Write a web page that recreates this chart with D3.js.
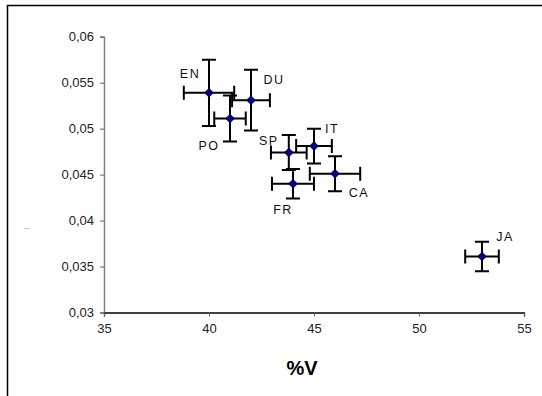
<!DOCTYPE html>
<html>
<head>
<meta charset="utf-8">
<script src="https://cdn.jsdelivr.net/npm/d3@7"></script>
<style>
  body { margin: 0; background: #fff; }
  svg { display: block; font-family: "Liberation Sans", Arial, sans-serif; }
</style>
</head>
<body>
<div id="chart"></div>
<script>
// Länder, %V, Wert und Fehlerbalken
const laender = ['EN', 'DU', 'PO', 'SP', 'IT', 'FR', 'CA', 'JA'];
const prozentV = [40, 42, 41, 43.8, 45, 44, 46, 53];
const werte = [0.0539, 0.0531, 0.0511, 0.0474, 0.0481, 0.0440, 0.0451, 0.0361];
const fehlerV = [1.2, 0.9, 0.75, 0.85, 0.85, 1.0, 1.2, 0.8];
const fehlerWert = [0.0036, 0.0033, 0.0025, 0.0019, 0.0019, 0.0016, 0.0019, 0.0016];
const xTicks = [35, 40, 45, 50, 55];
const yTicks = [0.03, 0.035, 0.04, 0.045, 0.05, 0.055, 0.06];

// Beschriftungsversatz in px (nur Layout)
const beschriftung = {
    EN: [-19, -15], DU: [23, -16], PO: [-21, 31], SP: [-20, -8],
    IT: [18, -13], FR: [-10, 30], CA: [24, 23], JA: [23, -15]
};

const width = 542, height = 396;
const svg = d3.select('#chart').append('svg')
    .attr('width', width)
    .attr('height', height);

// Rahmen
svg.append('path')
    .attr('d', `M7.5,${height} V5.5 H${width}`)
    .attr('fill', 'none')
    .attr('stroke', '#000')
    .attr('stroke-width', 1.5);

svg.append('line')
    .attr('x1', 24).attr('x2', 30).attr('y1', 228.5).attr('y2', 228.5)
    .attr('stroke', '#c8c8c8');

const x = d3.scaleLinear().domain([35, 55]).range([104, 524]);
const y = d3.scaleLinear().domain([0.03, 0.06]).range([312.5, 36.7]);

const fmt = d => String(+d.toFixed(3)).replace('.', ',');

// y-Achse
const yAxis = svg.append('g')
    .attr('transform', `translate(${x(35)},0)`)
    .call(d3.axisLeft(y).tickValues(yTicks).tickFormat(fmt).tickSize(4).tickPadding(6));
yAxis.select('.domain').attr('stroke', '#808080').attr('stroke-width', 1.5);
yAxis.selectAll('.tick line').attr('stroke', '#606060');
yAxis.selectAll('text').attr('font-size', 13).attr('fill', '#222')
    .attr('font-family', '"Liberation Sans", Arial, sans-serif');

// x-Achse
const xAxis = svg.append('g')
    .attr('transform', `translate(0,${y(0.03)})`)
    .call(d3.axisBottom(x).tickValues(xTicks).tickSize(4).tickPadding(7));
xAxis.select('.domain').attr('stroke', '#000').attr('stroke-width', 1.3);
xAxis.selectAll('.tick line').attr('stroke', '#606060');
xAxis.selectAll('text').attr('font-size', 13).attr('fill', '#222')
    .attr('font-family', '"Liberation Sans", Arial, sans-serif');

svg.append('text')
    .attr('x', 302)
    .attr('y', 375)
    .attr('text-anchor', 'middle')
    .attr('font-size', 20)
    .attr('font-weight', 'bold')
    .attr('fill', '#000')
    .text('%V');

const daten = laender.map((land, i) => ({
    land, v: prozentV[i], w: werte[i], ev: fehlerV[i], ew: fehlerWert[i]
}));

const kappe = 7;
const punkte = svg.append('g').selectAll('g')
    .data(daten)
    .enter()
    .append('g');

// Fehlerbalken
punkte.append('path')
    .attr('d', d => {
        const cx = x(d.v), cy = y(d.w);
        const x0 = x(d.v - d.ev), x1 = x(d.v + d.ev);
        const y0 = y(d.w + d.ew), y1 = y(d.w - d.ew);
        return `M${x0},${cy}H${x1}` +
            `M${x0},${cy - kappe}V${cy + kappe}` +
            `M${x1},${cy - kappe}V${cy + kappe}` +
            `M${cx},${y0}V${y1}` +
            `M${cx - kappe},${y0}H${cx + kappe}` +
            `M${cx - kappe},${y1}H${cx + kappe}`;
    })
    .attr('fill', 'none')
    .attr('stroke', '#000')
    .attr('stroke-width', 2);

punkte.append('path')
    .attr('d', 'M0,-4.5L4.5,0L0,4.5L-4.5,0Z')
    .attr('transform', d => `translate(${x(d.v)},${y(d.w)})`)
    .attr('fill', '#000080')
    .attr('stroke', '#000040')
    .attr('stroke-width', 0.6);

punkte.append('text')
    .attr('x', d => x(d.v) + beschriftung[d.land][0])
    .attr('y', d => y(d.w) + beschriftung[d.land][1])
    .attr('text-anchor', 'middle')
    .attr('font-size', 12.5)
    .attr('letter-spacing', 1.5)
    .attr('fill', '#111')
    .text(d => d.land);
</script>
</body>
</html>
